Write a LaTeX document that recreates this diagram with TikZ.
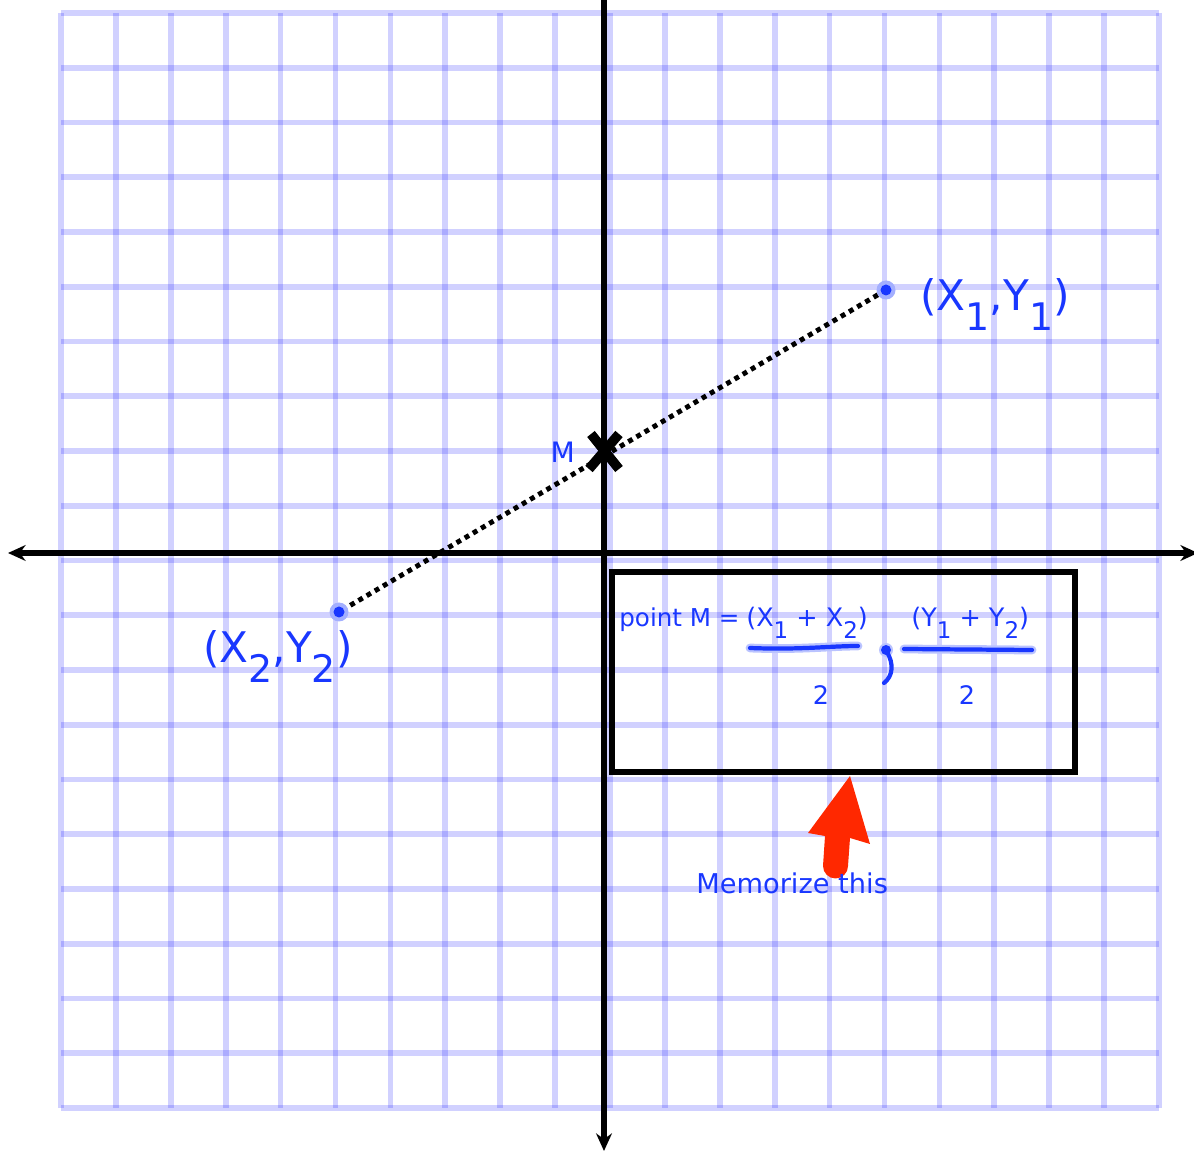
\documentclass[tikz,border=0pt]{standalone}
\usepackage{fontspec}
\setmainfont{DejaVu Sans}
\usetikzlibrary{arrows.meta, positioning}

\definecolor{pen}{RGB}{25,55,255}
\definecolor{alarm}{RGB}{255,40,0}
\newcommand{\lowidx}[1]{\raisebox{-0.85ex}{\scalebox{0.9}{#1}}}

\begin{document}
\begin{tikzpicture}[
x=0.02cm, y=-0.02cm,
gridline/.style={draw=blue, opacity=0.18, line width=3.2pt},
axis/.style={line width=3pt, {Stealth[length=10pt,width=9pt]}-{Stealth[length=10pt,width=9pt]}},
penlabel/.style={text=pen, inner sep=0pt, anchor=base west},
penstroke/.style={draw=pen, line width=2.4pt, line cap=round},
dot/.style={circle, fill=pen, inner sep=0pt, minimum size=2.2mm}
]
\useasboundingbox (0,0) rectangle (1194,1151);

% graph paper
\foreach \k in {0,...,20} {
  \draw[gridline] ({61+54.9*\k},13) -- ({61+54.9*\k},1108);
  \draw[gridline] (61,{13+54.75*\k}) -- (1159,{13+54.75*\k});
}

% axes
\draw[axis] (8,553) -- (1198,553);
\draw[line width=3pt, -{Stealth[length=10pt,width=9pt]}] (604,-5) -- (604,1151);

% the two points and the midpoint
\coordinate (cA) at (886,290);
\coordinate (cB) at (339,612);
\draw[line width=2.8pt, dash pattern=on 2.8pt off 2.6pt] (cA) -- (cB);
\node[dot, fill=pen!40, minimum size=3.8mm] at (cA) {};
\node[dot, fill=pen!40, minimum size=3.8mm] at (cB) {};
\node[dot] (pA) at (cA) {};
\node[dot] (pB) at (cB) {};

\coordinate (mid) at (604,452);
\draw[line width=5.5pt] (591,434) -- (619,469);
\draw[line width=5.5pt] (619,434) -- (589,469);
\node[text=pen, font=\fontsize{16}{19}\selectfont, left=4.6mm of mid] (mlabel) {M};

\node[penlabel, font=\fontsize{24}{28}\selectfont] (lblA) at (920,311) {(X\lowidx{1},Y\lowidx{1})};
\node[penlabel, font=\fontsize{24}{28}\selectfont] (lblB) at (203,663) {(X\lowidx{2},Y\lowidx{2})};

% formula box
\draw[line width=3pt] (612,572) rectangle (1075,772);
\node[penlabel, font=\fontsize{14}{17}\selectfont] (ptM) at (619,627) {point M =};
\node[penlabel, font=\fontsize{14.5}{17}\selectfont] (numX) at (746,627) {(X\lowidx{1} + X\lowidx{2})};
\node[penlabel, font=\fontsize{14.5}{17}\selectfont] (numY) at (911,627) {(Y\lowidx{1} + Y\lowidx{2})};
\node[text=pen, inner sep=0pt, anchor=base, font=\fontsize{14.5}{17}\selectfont] (denX) at (821,705) {2};
\node[text=pen, inner sep=0pt, anchor=base, font=\fontsize{14.5}{17}\selectfont] (denY) at (967,705) {2};
\draw[penstroke, draw=pen!30, line width=5pt] (750,648) .. controls (800,650) and (830,646) .. (858,646);
\draw[penstroke] (750,648) .. controls (800,650) and (830,646) .. (858,646);
\draw[penstroke, draw=pen!30, line width=5pt] (904,649) -- (1032,650);
\draw[penstroke] (904,649) -- (1032,650);
\fill[pen!30] (886,650) circle (7);
\fill[pen] (886,650) circle (5);
\draw[penstroke] (887,652) .. controls (894,664) and (893,676) .. (884,683);

% reminder
\fill[alarm] (850,776) -- (870,844) -- (850,838) -- (848,866)
  arc[start angle=0, end angle=180, radius=12.5] -- (825,836) -- (808,833) -- cycle;
\node[penlabel, font=\fontsize{15.5}{19}\selectfont] (memo) at (696,893) {Memorize this};
\end{tikzpicture}
\end{document}
